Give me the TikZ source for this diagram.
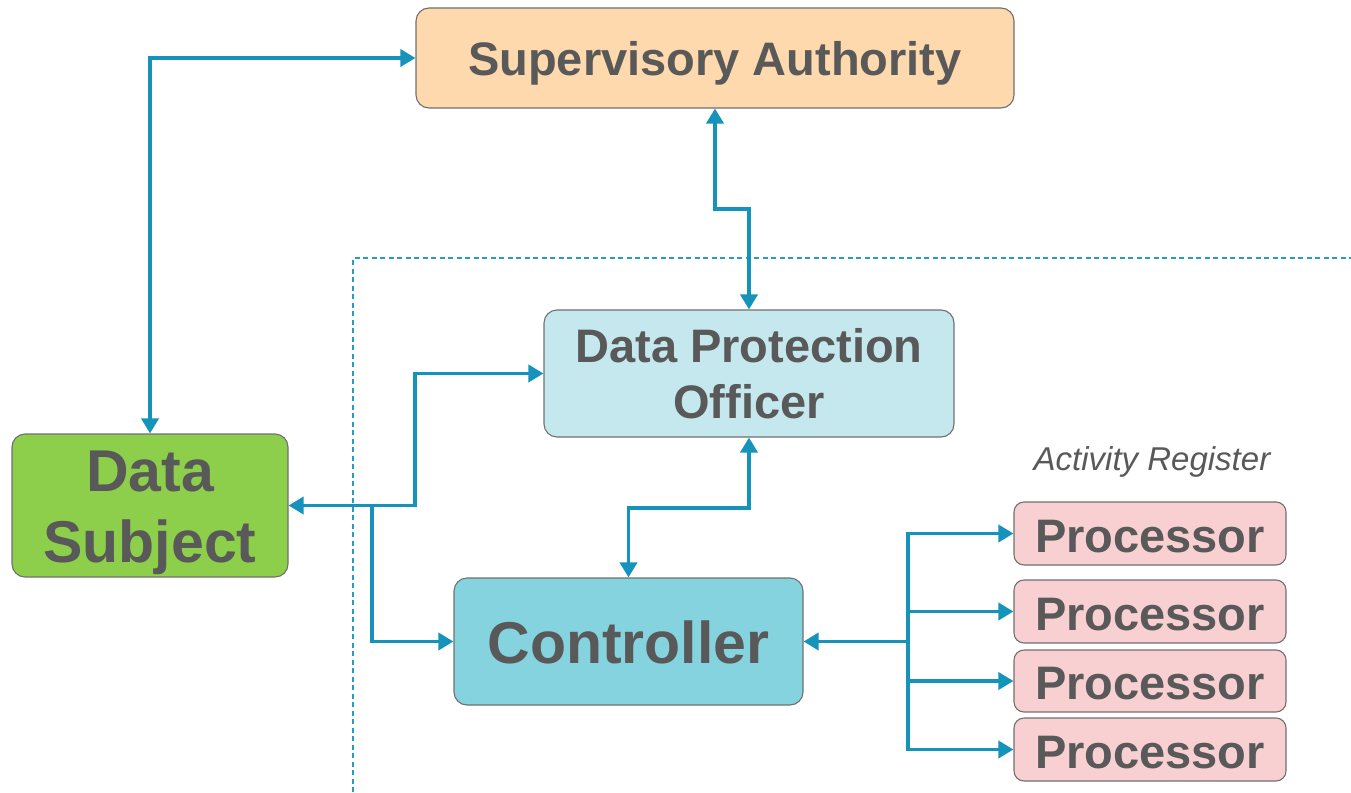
\documentclass[tikz,border=0pt]{standalone}
\usepackage{fontspec}
\setmainfont{Liberation Sans}
\usetikzlibrary{arrows.meta}
\definecolor{saFill}{RGB}{253,217,173}
\definecolor{dpoFill}{RGB}{197,232,238}
\definecolor{dsFill}{RGB}{141,207,75}
\definecolor{ctrlFill}{RGB}{134,211,224}
\definecolor{procFill}{RGB}{248,208,210}
\definecolor{connCol}{RGB}{21,147,187}
\definecolor{txtCol}{RGB}{89,89,89}
\definecolor{edgeCol}{RGB}{112,112,112}
\definecolor{dashCol}{RGB}{42,155,196}
\newcommand{\lowerby}[2]{\raisebox{-#1}[\height][\depth]{#2}}
\tikzset{
  box/.style={draw=edgeCol, line width=1.1pt, rounded corners=13pt, text=txtCol,
    font=\bfseries\fontsize{47}{56}\selectfont, align=center, inner sep=0pt},
  bigtxt/.style={font=\bfseries\fontsize{59}{71}\selectfont},
  procbox/.style={box, fill=procFill, minimum width=272pt, rounded corners=10pt},
  conn/.style={draw=connCol, line width=3.6pt, line join=miter,
    arrows={-}, >={Triangle[length=15pt,width=17pt]}},
  dashline/.style={draw=dashCol, line width=1.2pt, dash pattern=on 5pt off 3.5pt},
}
\begin{document}
\begin{tikzpicture}[x=1pt,y=-1pt]
\useasboundingbox (0,0) rectangle (1351,792);
% dashed boundary
\draw[dashline] (353,792) -- (353,258) -- (1351,258);
% nodes
\node[box, fill=saFill, minimum width=598pt, minimum height=100pt] (sa) at (715,58) {\lowerby{5pt}{Supervisory Authority}};
\node[box, fill=dpoFill, minimum width=410pt, minimum height=127pt] (dpo) at (749,373.5) {Data Protection\\Officer};
\node[box, bigtxt, fill=dsFill, minimum width=276pt, minimum height=143pt] (ds) at (150,505.5) {\lowerby{7pt}{\begin{tabular}{@{}c@{}}Data\\Subject\end{tabular}}};
\node[box, bigtxt, fill=ctrlFill, minimum width=349pt, minimum height=127pt] (ctrl) at (628.5,641.5) {\lowerby{1pt}{Controller}};
\node[procbox, minimum height=63pt] (p1) at (1150,533.5) {\lowerby{3pt}{Processor}};
\node[procbox, minimum height=63pt] (p2) at (1150,611.5) {\lowerby{3pt}{Processor}};
\node[procbox, minimum height=62pt] (p3) at (1150,681) {\lowerby{3pt}{Processor}};
\node[procbox, minimum height=63pt] (p4) at (1150,749.5) {\lowerby{3pt}{Processor}};
\node[text=txtCol, font=\itshape\fontsize{33}{40}\selectfont] (ar) at (1152,462) {Activity Register};
% junction coordinates
\coordinate (k1) at (715,209);
\coordinate (k2) at (415,373.5);
\coordinate (k3) at (372,505.5);
\coordinate (k4) at (628.5,508);
\coordinate (bus) at (908,641.5);
% connectors
\draw[conn, <->] (sa.west) -| (ds.north);
\draw[conn, <->] (sa.south) -- (k1) -| (dpo.north);
\draw[conn, <->] (ds.east) -| (k2) -- (dpo.west);
\draw[conn, ->] (k3) |- (ctrl.west);
\draw[conn, <->] (ctrl.north) -- (k4) -| (dpo.south);
\draw[conn, <-] (ctrl.east) -- (bus);
\draw[conn, ->] (bus) |- (p1.west);
\draw[conn, ->] (bus) |- (p2.west);
\draw[conn, ->] (bus) |- (p3.west);
\draw[conn, ->] (bus) |- (p4.west);
\end{tikzpicture}
\end{document}
